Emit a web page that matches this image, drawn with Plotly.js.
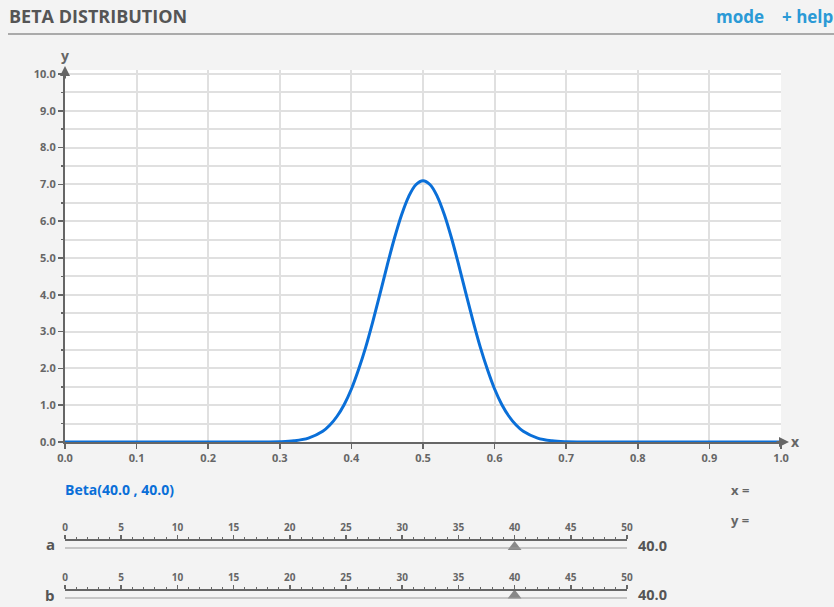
<!DOCTYPE html>
<html>
<head>
<meta charset="utf-8">
<script src="https://cdn.plot.ly/plotly-3.0.1.min.js"></script>
<style>
html,body{margin:0;padding:0;background:#f3f3f3;}
#chart{width:834px;height:607px;}
</style>
</head>
<body>
<div id="chart"></div>
<script>
// Density curve
const xVals = [0, 0.1, 0.2, 0.26, 0.28, 0.30, 0.32, 0.34, 0.36, 0.37, 0.38, 0.39, 0.40, 0.41, 0.42, 0.43, 0.44, 0.45, 0.46, 0.47, 0.48, 0.49, 0.50,
               0.51, 0.52, 0.53, 0.54, 0.55, 0.56, 0.57, 0.58, 0.59, 0.60, 0.61, 0.62, 0.63, 0.64, 0.66, 0.68, 0.70, 0.72, 0.74, 0.8, 0.9, 1.0];
const yVals = [0, 0, 0, 0.0004, 0.002, 0.008, 0.032, 0.105, 0.29, 0.46, 0.70, 1.02, 1.44, 1.97, 2.58, 3.28, 4.03, 4.80, 5.53, 6.17, 6.67, 6.99, 7.10,
               6.99, 6.67, 6.17, 5.53, 4.80, 4.03, 3.28, 2.58, 1.97, 1.44, 1.02, 0.70, 0.46, 0.29, 0.105, 0.032, 0.008, 0.002, 0.0004, 0, 0, 0];
// Slider parameters
const aValue = 40.0;
const bValue = 40.0;
const sliderMin = 0;
const sliderMax = 50;

const W = 834, H = 607;
const mL = 65, mR = 53, mT = 70, mB = 5;
const pw = W - mL - mR, ph = H - mT - mB;
const px = v => (v - mL) / pw;
const py = v => (H - mB - v) / ph;

const grey = '#666666';
const dark = '#555555';
const blue = '#0a6fd8';
const tf = {family: 'Open Sans', size: 11, color: grey, weight: 'bold'};
const stf = {family: 'Open Sans', size: 10, color: grey, weight: 'bold'};

const sliderAxis = (yname) => ({
  domain: [0, px(627)], range: [sliderMin, sliderMax], anchor: yname, side: 'top',
  showline: true, linecolor: grey, linewidth: 2, ticks: 'outside', ticklen: 4, tickwidth: 1.5, tickcolor: grey,
  dtick: 5, tick0: 0, showgrid: false, zeroline: false, tickfont: stf, fixedrange: true,
  minor: {dtick: 1, ticks: 'outside', ticklen: 2, tickwidth: 1, tickcolor: grey, showgrid: false}
});
const sliderY = (top, bottom) => ({
  domain: [py(bottom), py(top)], range: [0, 1], visible: false, fixedrange: true
});

const curve = {
  x: xVals, y: yVals, type: 'scatter', mode: 'lines', xaxis: 'x', yaxis: 'y',
  line: {color: blue, width: 3, shape: 'spline', smoothing: 1},
  hoverinfo: 'skip'
};
const thumbTrace = (val, xa, ya) => ({
  x: [val], y: [0.6], type: 'scatter', mode: 'markers', xaxis: xa, yaxis: ya, cliponaxis: false,
  marker: {symbol: 'triangle-up', size: 12, color: '#888888', line: {width: 0}},
  hoverinfo: 'skip'
});

const ann = (text, x, y, opts) => Object.assign({
  text: text, xref: 'paper', yref: 'paper', x: x, y: y, showarrow: false,
  xanchor: 'left', yanchor: 'middle',
  font: {family: 'Open Sans', size: 13, color: grey, weight: 'bold'}
}, opts || {});

const layout = {
  width: W, height: H,
  paper_bgcolor: '#f3f3f3', plot_bgcolor: 'rgba(0,0,0,0)',
  margin: {l: mL, r: mR, t: mT, b: mB, pad: 0},
  showlegend: false, hovermode: false,
  font: {family: 'Open Sans', color: grey},
  xaxis: {
    range: [0, 1], dtick: 0.1, tick0: 0, tickformat: '.1f',
    showgrid: true, gridcolor: '#e0e0e0', gridwidth: 2, zeroline: false,
    showline: true, linecolor: grey, linewidth: 2,
    ticks: 'outside', ticklen: 5, tickwidth: 1.5, tickcolor: grey,
    tickfont: tf, fixedrange: true, anchor: 'y'
  },
  yaxis: {
    domain: [py(442), 1], range: [0, (442 - 70) / 36.8], anchor: 'x',
    dtick: 1, tick0: 0, tickformat: '.1f',
    showgrid: true, gridcolor: '#e0e0e0', gridwidth: 2, zeroline: false,
    showline: true, linecolor: grey, linewidth: 2,
    ticks: 'outside', ticklen: 5, tickwidth: 1.5, tickcolor: grey,
    tickfont: tf, fixedrange: true,
    minor: {dtick: 0.5, showgrid: true, gridcolor: '#e0e0e0', gridwidth: 2, ticks: 'outside', ticklen: 2, tickcolor: grey}
  },
  xaxis2: sliderAxis('y2'),
  yaxis2: sliderY(541, 556),
  xaxis3: sliderAxis('y3'),
  yaxis3: sliderY(591, 605),
  shapes: [
    {type: 'rect', xref: 'paper', yref: 'paper', x0: 0, x1: 1, y0: py(442), y1: 1, layer: 'below', fillcolor: '#ffffff', line: {width: 0}},
    {type: 'line', xref: 'paper', yref: 'paper', x0: px(8), x1: px(834), y0: py(34), y1: py(34), line: {color: '#aaaaaa', width: 2}},
    {type: 'line', xref: 'x2', yref: 'paper', x0: sliderMin, x1: sliderMax, y0: py(548), y1: py(548), line: {color: '#999999', width: 1}},
    {type: 'line', xref: 'x3', yref: 'paper', x0: sliderMin, x1: sliderMax, y0: py(598), y1: py(598), line: {color: '#999999', width: 1}}
  ],
  annotations: [
    ann('BETA DISTRIBUTION', px(7), py(16), {font: {family: 'Open Sans', size: 18, color: dark, weight: 'bold'}}),
    ann('mode', px(740), py(16), {xanchor: 'center', font: {family: 'Open Sans', size: 17, color: '#2b9ad6', weight: 'bold'}}),
    ann('+ help', px(807), py(16), {xanchor: 'center', font: {family: 'Open Sans', size: 17, color: '#2b9ad6', weight: 'bold'}}),
    ann('y', px(65), py(56), {xanchor: 'center', font: {family: 'Open Sans', size: 14, color: grey, weight: 'bold'}}),
    ann('x', px(795), py(441), {xanchor: 'center', font: {family: 'Open Sans', size: 14, color: grey, weight: 'bold'}}),
    ann('Beta(' + aValue.toFixed(1) + ' , ' + bValue.toFixed(1) + ')', px(63), py(489), {font: {family: 'Open Sans', size: 14, color: blue, weight: 'bold'}}),
    ann('x =', px(729), py(490)),
    ann('y =', px(729), py(520)),
    ann('a', px(50), py(544), {xanchor: 'center', font: {family: 'Open Sans', size: 15, color: dark, weight: 'bold'}}),
    ann('b', px(50), py(595), {xanchor: 'center', font: {family: 'Open Sans', size: 15, color: dark, weight: 'bold'}}),
    ann(aValue.toFixed(1), px(636), py(545), {font: {family: 'Open Sans', size: 14.5, color: dark, weight: 'bold'}}),
    ann(bValue.toFixed(1), px(636), py(594), {font: {family: 'Open Sans', size: 14.5, color: dark, weight: 'bold'}}),
    // axis arrows
    {text: '', xref: 'paper', yref: 'paper', x: px(789), y: py(442), ax: -14, ay: 0,
     showarrow: true, arrowhead: 2, arrowsize: 1, arrowwidth: 2, arrowcolor: grey, standoff: 0},
    {text: '', xref: 'paper', yref: 'paper', x: 0, y: py(66), ax: 0, ay: 14,
     showarrow: true, arrowhead: 2, arrowsize: 1, arrowwidth: 2, arrowcolor: grey, standoff: 0}
  ]
};

Plotly.newPlot('chart', [curve, thumbTrace(aValue, 'x2', 'y2'), thumbTrace(bValue, 'x3', 'y3')], layout, {displayModeBar: false, staticPlot: true});
</script>
</body>
</html>
